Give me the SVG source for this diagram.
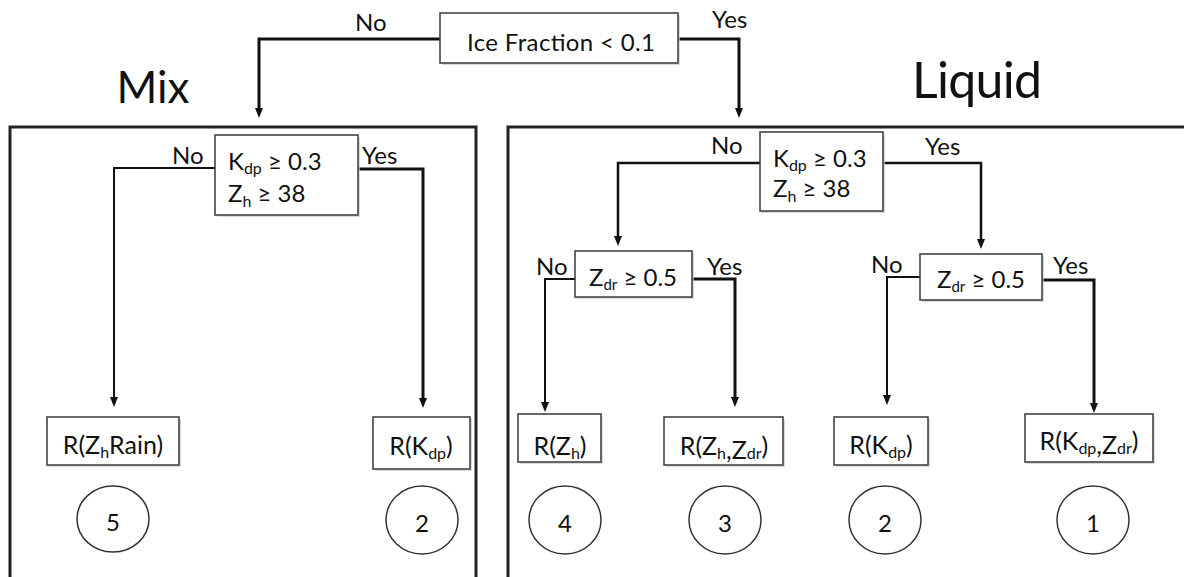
<svg xmlns="http://www.w3.org/2000/svg" width="1184" height="577" viewBox="0 0 1184 577">
  <style>
    text { font-family: Lato, "Open Sans", "Liberation Sans", sans-serif; fill: #111; }
    .t24 { font-size: 24px; }
    .t25 { font-size: 25px; }
    .lbl { font-size: 24px; }
    .num { font-size: 24px; }
    .sub { font-size: 16px; }
    .head { font-size: 44px; }
    .box { fill: #fff; stroke: #444; stroke-width: 1.6; }
    .shadow { fill: #ccc; opacity: 0.7; }
    .circ { fill: #fff; stroke: #333; stroke-width: 1.5; }
    .frame { fill: none; stroke: #222; stroke-width: 3; }
    .wire { fill: none; stroke: #111; stroke-width: 2.5; marker-end: url(#arrow); }
    .thin { stroke-width: 2; }
    .thick { stroke-width: 3; }
  </style>
  <defs>
    <marker id="arrow" viewBox="0 0 10 10" refX="4" refY="5" markerWidth="10" markerHeight="10" markerUnits="userSpaceOnUse" orient="auto">
      <path d="M0,1 L10,5 L0,9 z" fill="#111"/>
    </marker>
  </defs>
  <rect width="1184" height="577" fill="#fff"/>

  <!-- class frames -->
  <g id="mix-frame">
    <rect class="frame" x="10" y="127" width="466" height="470"/>
    <text class="head" x="153" y="103" text-anchor="middle">Mix</text>
  </g>
  <g id="liquid-frame">
    <rect class="frame" x="508" y="127" width="700" height="470"/>
    <text class="head" x="912" y="98" style="font-size:50px" textLength="130">Liquid</text>
  </g>

  <!-- connectors -->
  <g id="connectors">
    <path class="wire thick" d="M440,39 H259 V112"/>
    <path class="wire thick" d="M678,39 H739 V112"/>
    <path class="wire thin" d="M215,168 H114 V401"/>
    <path class="wire thick" d="M358,169 H423 V402"/>
    <path class="wire" d="M760,163 H618 V240"/>
    <path class="wire" d="M883,163 H981 V243"/>
    <path class="wire thin" d="M575,279 H545 V406"/>
    <path class="wire thick" d="M692,279 H735 V401"/>
    <path class="wire thin" d="M920,277 H887 V399"/>
    <path class="wire thick" d="M1042,280 H1094 V407"/>
  </g>

  <!-- branch labels -->
  <g id="labels">
    <text class="lbl" x="355" y="31">No</text>
    <text class="lbl" x="712" y="28">Yes</text>
    <text class="lbl" x="172" y="164">No</text>
    <text class="lbl" x="362" y="164">Yes</text>
    <text class="lbl" x="711" y="154">No</text>
    <text class="lbl" x="925" y="155">Yes</text>
    <text class="lbl" x="536" y="275">No</text>
    <text class="lbl" x="707" y="275">Yes</text>
    <text class="lbl" x="871" y="273">No</text>
    <text class="lbl" x="1053" y="274">Yes</text>
  </g>

  <!-- root test -->
  <g id="ice-fraction">
    <rect class="shadow" x="442" y="15" width="238" height="50"/>
    <rect class="box" x="440" y="13" width="238" height="50"/>
    <text class="t24" x="561" y="51" text-anchor="middle" textLength="188">Ice Fraction &lt; 0.1</text>
  </g>

  <!-- mix subtree -->
  <g id="mix-test">
    <rect class="shadow" x="217" y="137" width="143" height="80"/>
    <rect class="box" x="215" y="135" width="143" height="80"/>
    <text class="t24" x="228" y="170">K<tspan class="sub" dy="4">dp</tspan><tspan dy="-4"> ≥ 0.3</tspan></text>
    <text class="t24" x="228" y="202">Z<tspan class="sub" dy="5">h</tspan><tspan dy="-5"> ≥ 38</tspan></text>
  </g>
  <g id="mix-leaf-zh-rain">
    <rect class="shadow" x="49" y="419" width="132" height="48"/>
    <rect class="box" x="47" y="417" width="132" height="48"/>
    <text class="t25" x="113" y="454" text-anchor="middle">R(Z<tspan class="sub" dy="4">h</tspan><tspan dy="-4">Rain)</tspan></text>
  </g>
  <g id="mix-leaf-kdp">
    <rect class="shadow" x="375" y="419" width="97" height="52"/>
    <rect class="box" x="373" y="417" width="97" height="52"/>
    <text class="t25" x="421" y="455" text-anchor="middle">R(K<tspan class="sub" dy="4">dp</tspan><tspan dy="-4">)</tspan></text>
  </g>
  <g id="mix-rank-5">
    <ellipse class="circ" cx="113" cy="519" rx="36" ry="33"/>
    <text class="num" x="113" y="531" text-anchor="middle">5</text>
  </g>
  <g id="mix-rank-2">
    <ellipse class="circ" cx="422" cy="520" rx="36" ry="34"/>
    <text class="num" x="422" y="532" text-anchor="middle">2</text>
  </g>

  <!-- liquid subtree -->
  <g id="liquid-test">
    <rect class="shadow" x="762" y="134" width="123" height="79"/>
    <rect class="box" x="760" y="132" width="123" height="79"/>
    <text class="t24" x="773" y="167">K<tspan class="sub" dy="4">dp</tspan><tspan dy="-4"> ≥ 0.3</tspan></text>
    <text class="t24" x="773" y="197">Z<tspan class="sub" dy="5">h</tspan><tspan dy="-5"> ≥ 38</tspan></text>
  </g>
  <g id="liquid-zdr-low">
    <rect class="shadow" x="577" y="253" width="117" height="46"/>
    <rect class="box" x="575" y="251" width="117" height="46"/>
    <text class="t24" x="633" y="286" text-anchor="middle">Z<tspan font-size="15" dy="4">dr</tspan><tspan dy="-4"> ≥ 0.5</tspan></text>
  </g>
  <g id="liquid-zdr-high">
    <rect class="shadow" x="922" y="256" width="122" height="46"/>
    <rect class="box" x="920" y="254" width="122" height="46"/>
    <text class="t24" x="981" y="288" text-anchor="middle">Z<tspan font-size="15" dy="4">dr</tspan><tspan dy="-4"> ≥ 0.5</tspan></text>
  </g>
  <g id="liquid-leaf-zh">
    <rect class="shadow" x="520" y="416" width="83" height="48"/>
    <rect class="box" x="518" y="414" width="83" height="48"/>
    <text class="t25" x="560" y="455" text-anchor="middle">R(Z<tspan class="sub" dy="4">h</tspan><tspan dy="-4">)</tspan></text>
  </g>
  <g id="liquid-leaf-zh-zdr">
    <rect class="shadow" x="666" y="419" width="119" height="48"/>
    <rect class="box" x="664" y="417" width="119" height="48"/>
    <text class="t25" x="724" y="455" text-anchor="middle">R(Z<tspan class="sub" dy="4">h</tspan><tspan>,Z</tspan><tspan class="sub">dr</tspan><tspan dy="-4">)</tspan></text>
  </g>
  <g id="liquid-leaf-kdp">
    <rect class="shadow" x="836" y="419" width="94" height="48"/>
    <rect class="box" x="834" y="417" width="94" height="48"/>
    <text class="t25" x="881" y="454" text-anchor="middle">R(K<tspan class="sub" dy="4">dp</tspan><tspan dy="-4">)</tspan></text>
  </g>
  <g id="liquid-leaf-kdp-zdr">
    <rect class="shadow" x="1027" y="416" width="128" height="48"/>
    <rect class="box" x="1025" y="414" width="128" height="48"/>
    <text class="t25" x="1089" y="450" text-anchor="middle">R(K<tspan class="sub" dy="4">dp</tspan><tspan>,Z</tspan><tspan class="sub">dr</tspan><tspan dy="-4">)</tspan></text>
  </g>
  <g id="liquid-rank-4">
    <ellipse class="circ" cx="565" cy="520" rx="36" ry="34"/>
    <text class="num" x="565" y="532" text-anchor="middle">4</text>
  </g>
  <g id="liquid-rank-3">
    <ellipse class="circ" cx="725" cy="520" rx="36" ry="34"/>
    <text class="num" x="725" y="532" text-anchor="middle">3</text>
  </g>
  <g id="liquid-rank-2">
    <ellipse class="circ" cx="885" cy="520" rx="36" ry="34"/>
    <text class="num" x="885" y="532" text-anchor="middle">2</text>
  </g>
  <g id="liquid-rank-1">
    <ellipse class="circ" cx="1093" cy="520" rx="36" ry="34"/>
    <text class="num" x="1093" y="532" text-anchor="middle">1</text>
  </g>
</svg>
